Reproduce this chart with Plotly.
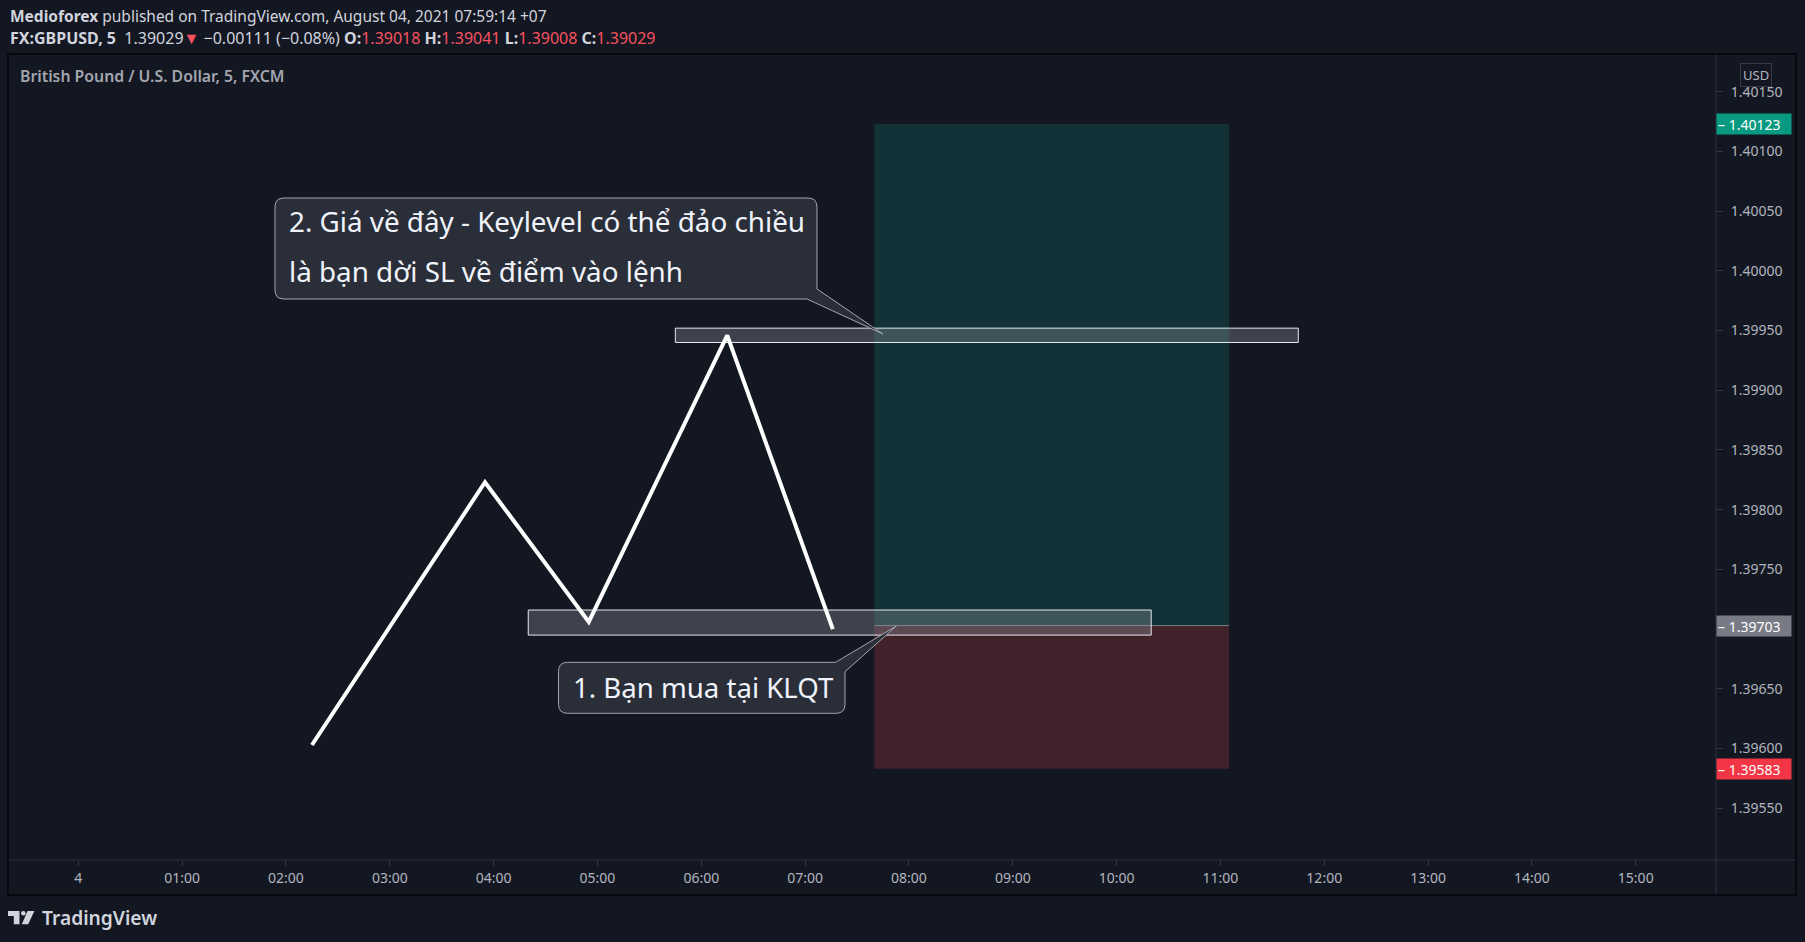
import plotly.graph_objects as go

# ---------------- data ----------------
path_times = ["2021-08-04 02:15", "2021-08-04 03:55", "2021-08-04 04:55",
              "2021-08-04 06:15", "2021-08-04 07:16"]
path_prices = [1.39603, 1.39823, 1.39706, 1.39946, 1.39700]

zone_upper_times = ["2021-08-04 05:45", "2021-08-04 11:45"]
zone_upper_prices = [1.39940, 1.39952]
zone_lower_times = ["2021-08-04 04:20", "2021-08-04 10:20"]
zone_lower_prices = [1.39695, 1.39716]

position_times = ["2021-08-04 07:40", "2021-08-04 11:05"]
entry_price = 1.39703
target_price = 1.40123
stop_price = 1.39583

x_ticks = ["2021-08-04 00:00", "2021-08-04 01:00", "2021-08-04 02:00", "2021-08-04 03:00",
           "2021-08-04 04:00", "2021-08-04 05:00", "2021-08-04 06:00", "2021-08-04 07:00",
           "2021-08-04 08:00", "2021-08-04 09:00", "2021-08-04 10:00", "2021-08-04 11:00",
           "2021-08-04 12:00", "2021-08-04 13:00", "2021-08-04 14:00", "2021-08-04 15:00"]
x_tick_labels = ["4", "01:00", "02:00", "03:00", "04:00", "05:00", "06:00", "07:00",
                 "08:00", "09:00", "10:00", "11:00", "12:00", "13:00", "14:00", "15:00"]
# 1.39700 is hidden behind the entry price badge in the reference
y_ticks = [1.3955, 1.3960, 1.3965, 1.3975, 1.3980, 1.3985, 1.3990,
           1.3995, 1.4000, 1.4005, 1.4010, 1.4015]
y_tick_labels = ["1.39550", "1.39600", "1.39650", "1.39750", "1.39800", "1.39850",
                 "1.39900", "1.39950", "1.40000", "1.40050", "1.40100", "1.40150"]
x_range = ["2021-08-03 23:19:22", "2021-08-04 15:46:23"]
y_range = [1.395067, 1.401807]

callout_top_lines = ["2. Giá về đây - Keylevel có thể đảo chiều",
                     "là bạn dời SL về điểm vào lệnh"]
callout_bottom_text = "1. Bạn mua tại KLQT"

header_line1 = "<b>Medioforex</b> published on TradingView.com, August 04, 2021 07:59:14 +07"
RED = "#f7525f"
header_line2 = ("<b>FX:GBPUSD, 5</b>  1.39029<span style='color:%s'>▼</span> −0.00111 (−0.08%%) "
                "<b>O:</b><span style='color:%s'>1.39018</span> <b>H:</b><span style='color:%s'>1.39041</span> "
                "<b>L:</b><span style='color:%s'>1.39008</span> <b>C:</b><span style='color:%s'>1.39029</span>"
                ) % (RED, RED, RED, RED, RED)
pane_title = "British Pound / U.S. Dollar, 5, FXCM"

# ---------------- geometry (pixels) ----------------
W, H = 1805, 942
PL, PR, PT, PB = 8, 1716, 55, 860
FONT = "Noto Sans"
BG = "#131722"


def px(x):
    return (x - PL) / (PR - PL)


def py(y):
    return (PB - y) / (PB - PT)


def path_from(points):
    s = ""
    for cmd, pts in points:
        s += cmd + " " + " ".join("%.6f,%.6f" % (px(a), py(b)) for a, b in pts) + " "
    return s + "Z"


fig = go.Figure()

fig.add_trace(go.Scatter(
    x=path_times, y=path_prices, mode="lines",
    line=dict(color="#ffffff", width=4), hoverinfo="skip", showlegend=False))

shapes = []
# long position
shapes.append(dict(type="rect", xref="x", yref="y", x0=position_times[0], x1=position_times[1],
                   y0=entry_price, y1=target_price, fillcolor="#133237", line=dict(width=0),
                   layer="below"))
shapes.append(dict(type="rect", xref="x", yref="y", x0=position_times[0], x1=position_times[1],
                   y0=stop_price, y1=entry_price, fillcolor="#41222a", line=dict(width=0),
                   layer="below"))
shapes.append(dict(type="line", xref="x", yref="y", x0=position_times[0], x1=position_times[1],
                   y0=entry_price, y1=entry_price, line=dict(color="#787b86", width=1),
                   layer="below"))
# key level zones
for tt, pp in [(zone_upper_times, zone_upper_prices), (zone_lower_times, zone_lower_prices)]:
    shapes.append(dict(type="rect", xref="x", yref="y", x0=tt[0], x1=tt[1], y0=pp[0], y1=pp[1],
                       fillcolor="rgba(150,154,166,0.33)", line=dict(color="#e6e8ee", width=1),
                       layer="below"))

# callouts
r = 9
L2, T2, R2, B2 = 275, 198, 817, 299
callout2 = path_from([
    ("M", [(L2 + r, T2)]), ("L", [(R2 - r, T2)]), ("Q", [(R2, T2), (R2, T2 + r)]),
    ("L", [(R2, 289)]), ("L", [(883, 334)]), ("L", [(807, B2)]), ("L", [(L2 + r, B2)]),
    ("Q", [(L2, B2), (L2, B2 - r)]), ("L", [(L2, T2 + r)]), ("Q", [(L2, T2), (L2 + r, T2)]),
])
L1, T1, R1, B1 = 558.5, 662.3, 845, 713.3
callout1 = path_from([
    ("M", [(L1 + r, T1)]), ("L", [(835.7, T1)]), ("L", [(896.4, 626)]), ("L", [(R1, 671.7)]),
    ("L", [(R1, B1 - r)]), ("Q", [(R1, B1), (R1 - r, B1)]), ("L", [(L1 + r, B1)]),
    ("Q", [(L1, B1), (L1, B1 - r)]), ("L", [(L1, T1 + r)]), ("Q", [(L1, T1), (L1 + r, T1)]),
])
for p in (callout2, callout1):
    shapes.append(dict(type="path", xref="paper", yref="paper", path=p,
                       fillcolor="#2a2e39", line=dict(color="#a3a6af", width=1), layer="above"))

# pane frame and axis separators
shapes.append(dict(type="line", xref="paper", yref="paper", x0=px(PL), x1=px(1796),
                   y0=py(PB), y1=py(PB), line=dict(color="#2f333e", width=1), layer="above"))
shapes.append(dict(type="line", xref="paper", yref="paper", x0=px(PR), x1=px(PR),
                   y0=py(54), y1=py(895), line=dict(color="#2f333e", width=1), layer="above"))
shapes.append(dict(type="rect", xref="paper", yref="paper", x0=px(PL), x1=px(1796),
                   y0=py(54), y1=py(895), line=dict(color="#050609", width=1.5), layer="above"))

# TradingView logo
LOGO = "#d1d4dc"
shapes.append(dict(type="path", xref="paper", yref="paper", fillcolor=LOGO, line=dict(width=0),
                   path=path_from([("M", [(8, 911)]), ("L", [(19.5, 911)]), ("L", [(19.5, 924.3)]),
                                   ("L", [(13.8, 924.3)]), ("L", [(13.8, 916)]), ("L", [(8, 916)])])))
shapes.append(dict(type="circle", xref="paper", yref="paper", fillcolor=LOGO, line=dict(width=0),
                   x0=px(21), x1=px(25.6), y0=py(915.6), y1=py(911)))
shapes.append(dict(type="path", xref="paper", yref="paper", fillcolor=LOGO, line=dict(width=0),
                   path=path_from([("M", [(27.5, 911)]), ("L", [(34.4, 911)]), ("L", [(28.2, 924.3)]),
                                   ("L", [(21.8, 924.3)])])))

annotations = []
TXT = "#d1d4dc"
annotations.append(dict(xref="paper", yref="paper", x=px(8), y=py(16), xanchor="left", yanchor="middle",
                        text=header_line1, showarrow=False, font=dict(family=FONT, size=15.5, color=TXT)))
annotations.append(dict(xref="paper", yref="paper", x=px(8), y=py(38), xanchor="left", yanchor="middle",
                        text=header_line2, showarrow=False, font=dict(family=FONT, size=16, color=TXT)))
annotations.append(dict(xref="paper", yref="paper", x=px(18), y=py(76), xanchor="left", yanchor="middle",
                        text=pane_title, showarrow=False,
                        font=dict(family=FONT, size=15.8, color="#a3a6af", weight=600)))
annotations.append(dict(xref="paper", yref="paper", x=px(40), y=py(917.5), xanchor="left",
                        yanchor="middle", text="TradingView", showarrow=False,
                        font=dict(family=FONT, size=19.2, color=LOGO, weight=600)))
# callout texts
CT = "#f0f3fa"
annotations.append(dict(xref="paper", yref="paper", x=px(287), y=py(221), xanchor="left",
                        yanchor="middle", text=callout_top_lines[0], showarrow=False,
                        font=dict(family=FONT, size=27.8, color=CT)))
annotations.append(dict(xref="paper", yref="paper", x=px(287), y=py(271), xanchor="left",
                        yanchor="middle", text=callout_top_lines[1], showarrow=False,
                        font=dict(family=FONT, size=27.8, color=CT)))
annotations.append(dict(xref="paper", yref="paper", x=px(571), y=py(687), xanchor="left",
                        yanchor="middle", text=callout_bottom_text, showarrow=False,
                        font=dict(family=FONT, size=27.6, color=CT)))
# USD badge
annotations.append(dict(xref="paper", yref="paper", x=px(1755.5), y=py(75.5), xanchor="center",
                        yanchor="middle", text="USD", showarrow=False, bgcolor=BG,
                        bordercolor="#363a45", borderwidth=1, borderpad=2,
                        font=dict(family=FONT, size=13, color="#b2b5be")))
# price labels
for val, col in [(target_price, "#089981"), (entry_price, "#787b86"), (stop_price, "#f23645")]:
    annotations.append(dict(xref="paper", yref="y", x=1.0, y=val, xanchor="left", yanchor="middle",
                            text="– %.5f" % val, showarrow=False, bgcolor=col, width=72, height=18,
                            borderpad=1, align="left",
                            font=dict(family=FONT, size=14, color="#ffffff")))

fig.update_layout(
    width=W, height=H, autosize=False,
    margin=dict(l=PL, r=W - PR, t=PT, b=H - PB),
    paper_bgcolor=BG, plot_bgcolor=BG,
    shapes=shapes, annotations=annotations, showlegend=False,
    xaxis=dict(type="date", range=x_range, tickvals=x_ticks, ticktext=x_tick_labels,
               ticks="outside", ticklen=5, tickcolor="#363a45", showgrid=False, zeroline=False,
               showline=False, tickfont=dict(family=FONT, size=14, color="#b2b5be"), fixedrange=True),
    yaxis=dict(range=y_range, side="right", tickvals=y_ticks, ticktext=y_tick_labels,
               ticks="outside", ticklen=6, tickcolor="#363a45", showgrid=False, zeroline=False,
               showline=False, tickfont=dict(family=FONT, size=14, color="#b2b5be"), fixedrange=True,
               ticklabelstandoff=5),
)

fig.write_html("out.html", config={"displayModeBar": False})
